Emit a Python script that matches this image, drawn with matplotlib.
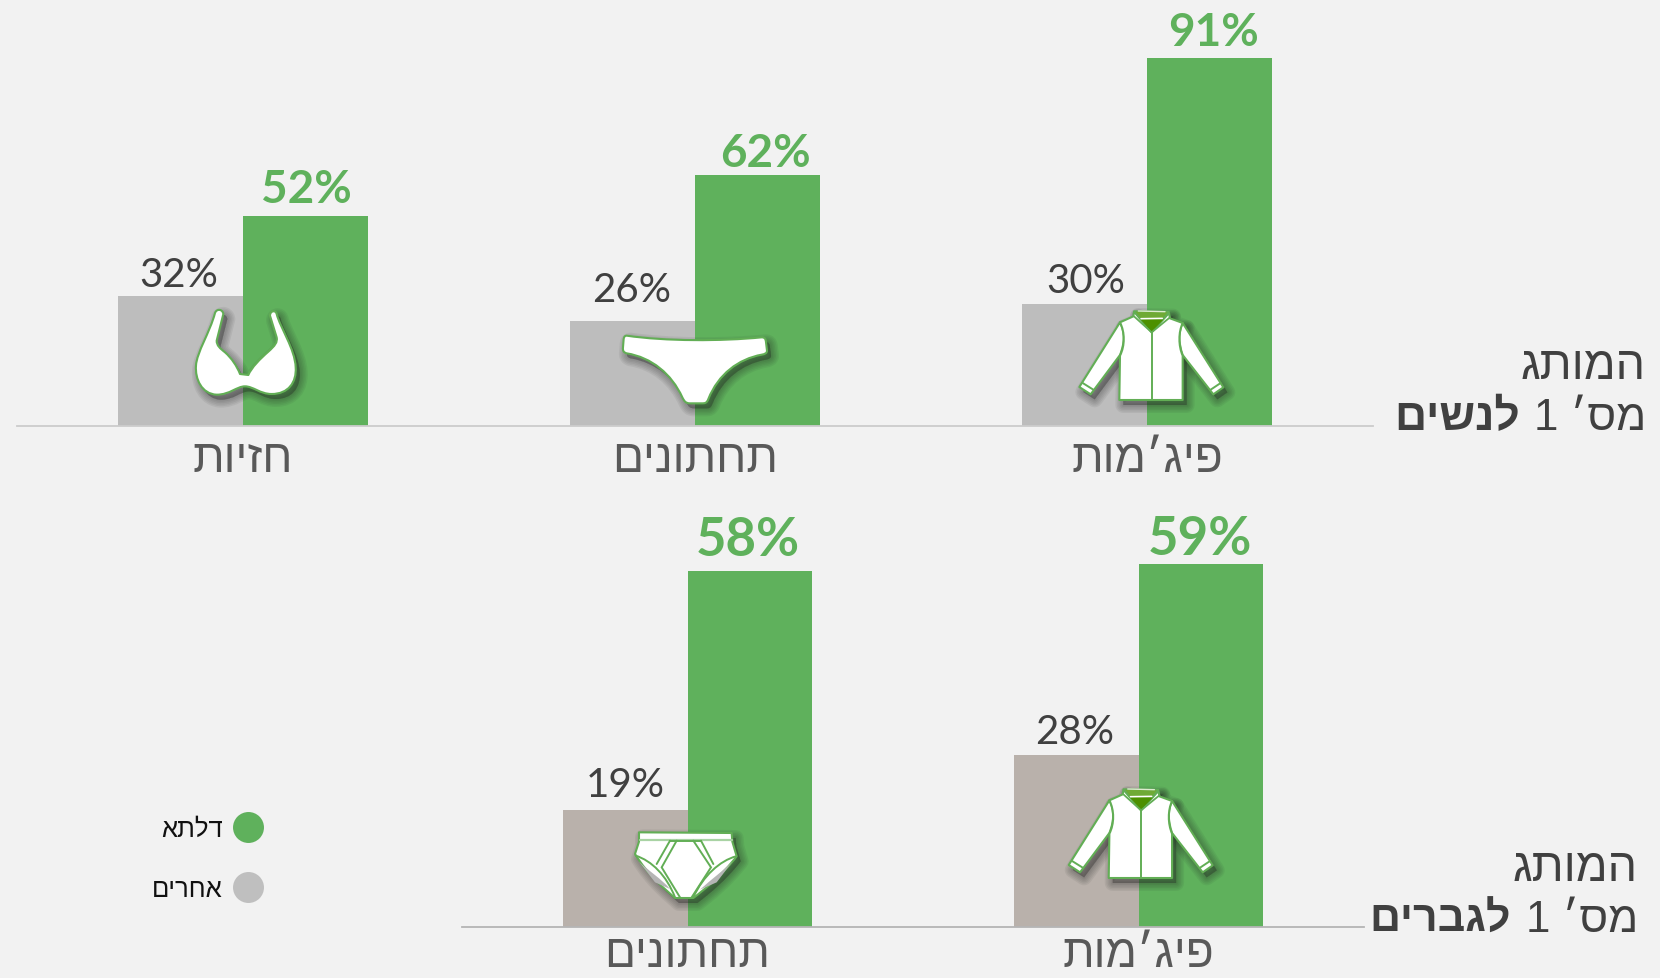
import matplotlib
matplotlib.use("Agg")
import matplotlib.pyplot as plt
from matplotlib.path import Path
from matplotlib.patches import PathPatch
from matplotlib.lines import Line2D

# ---------- data ----------
women_categories = ["חזיות", "תחתונים", "פיג׳מות"]
women_others = [32, 26, 30]
women_delta = [52, 62, 91]
men_categories = ["תחתונים", "פיג׳מות"]
men_others = [19, 28]
men_delta = [58, 59]
legend_labels = ["דלתא", "אחרים"]
title_top = "המותג"
title_num = "מס׳ 1"
title_women = "לנשים"
title_men = "לגברים"

W, H = 1660, 979
BG = "#F2F2F2"
GREEN = "#5FB15C"
GRAY = "#BDBDBD"
TAUPE = "#B9B1AB"
EDGE = "#62AE55"
DARK = "#404040"
HEB = "Liberation Sans"
NUM = "Lato"


def rtl(s):
    """matplotlib lays text out left to right: give it the visual order."""
    return s[::-1]


fig = plt.figure(figsize=(W / 100, H / 100), dpi=100, facecolor=BG)


def panel(left, right, baseline, top, ymax, ncat):
    ax = fig.add_axes([left / W, 1 - baseline / H, (right - left) / W, (baseline - top) / H])
    ax.set_facecolor("none")
    ax.set_xlim(-0.5, ncat - 0.5)
    ax.set_ylim(0, ymax)
    for s in ("top", "left", "right"):
        ax.spines[s].set_visible(False)
    ax.set_yticks([])
    return ax


def draw(ax, cats, others, delta, gray, sz_o, sz_d, spine, off_o, off_d, pad):
    bw = 0.2765
    xs = list(range(len(cats)))
    ax.bar([x - bw / 2 for x in xs], others, bw, color=gray, linewidth=0)
    ax.bar([x + bw / 2 for x in xs], delta, bw, color=GREEN, linewidth=0)
    ax.spines["bottom"].set_color(spine)
    ax.spines["bottom"].set_linewidth(1.3)
    ax.set_xticks(xs, [rtl(c) for c in cats], family=HEB, fontsize=33, color="#595959")
    ax.tick_params(axis="x", length=0, pad=pad)
    for i, x in enumerate(xs):
        ax.annotate(f"{others[i]}%", (x - bw / 2, others[i]), xytext=off_o[i],
                    textcoords="offset pixels", ha="center", va="baseline",
                    family=NUM, fontweight="normal", fontsize=sz_o, color=DARK)
        ax.annotate(f"{delta[i]}%", (x + bw / 2, delta[i]), xytext=off_d[i],
                    textcoords="offset pixels", ha="center", va="baseline",
                    family=NUM, fontweight="bold", fontsize=sz_d, color=GREEN)


ax_w = panel(17, 1373, 426.7, 59, 91, 3)
draw(ax_w, women_categories, women_others, women_delta, GRAY, 29, 33, "#CCCCCC",
     [(-2, 10), (-1, 20), (1, 12)], [(1, 14), (8, 9), (4, 13)], 8)
ax_m = panel(462, 1364, 928.3, 565.4, 59, 2)
draw(ax_m, men_categories, men_others, men_delta, TAUPE, 29, 38, "#B5B5B5",
     [(0, 14), (-2, 12)], [(-2, 16), (-1, 10)], 3.5)

# overlay in pixel coordinates for pictograms and side titles
ov = fig.add_axes([0, 0, 1, 1], zorder=5)
ov.set_xlim(0, W)
ov.set_ylim(H, 0)
ov.axis("off")
ov.patch.set_alpha(0)


def make_path(cmds, ox, oy):
    """cmds in 3x crop pixels: ('M',p) ('L',p) ('C',p1,p2,p3) ('Z',)"""
    verts, codes = [], []
    def t(p):
        return (ox + p[0] / 3, oy + p[1] / 3)
    for c in cmds:
        if c[0] == "M":
            verts.append(t(c[1])); codes.append(Path.MOVETO)
        elif c[0] == "L":
            verts.append(t(c[1])); codes.append(Path.LINETO)
        elif c[0] == "C":
            verts += [t(c[1]), t(c[2]), t(c[3])]; codes += [Path.CURVE4] * 3
        else:
            verts.append(verts[0]); codes.append(Path.CLOSEPOLY)
    return Path(verts, codes)


def shadow(path, dx=4, dy=5):
    sp = path.transformed(matplotlib.transforms.Affine2D().translate(dx, dy))
    for lw in (16, 13, 10, 7, 4, 1):
        ov.add_patch(PathPatch(sp, facecolor="#222222", edgecolor="#222222", alpha=0.065,
                               lw=lw * 0.72, joinstyle="round", zorder=1))


def shape(path, lw=1.5, fc="white", ec=EDGE, z=3):
    ov.add_patch(PathPatch(path, facecolor=fc, edgecolor=ec, lw=lw, joinstyle="round", zorder=z))


def stroke(cmds, ox, oy, lw=1.4, color=EDGE, z=4):
    ov.add_patch(PathPatch(make_path(cmds, ox, oy), facecolor="none", edgecolor=color,
                           lw=lw, capstyle="round", zorder=z))


def jacket(ox, oy):
    body = [("M", (190, 52)), ("L", (150, 70)), ("C", (165, 100), (165, 140), (150, 170)),
            ("L", (148, 303)), ("L", (338, 303)), ("L", (338, 170)),
            ("C", (325, 140), (325, 100), (338, 72)), ("L", (300, 58)), ("L", (297, 42)),
            ("L", (245, 100)), ("L", (192, 38)), ("Z",)]
    left = [("M", (150, 70)), ("L", (28, 264)), ("L", (62, 286)), ("L", (150, 168)),
            ("C", (165, 130), (165, 100), (150, 70)), ("Z",)]
    right = [("M", (338, 72)), ("L", (460, 265)), ("L", (430, 286)), ("L", (338, 168)),
             ("C", (325, 130), (325, 100), (338, 72)), ("Z",)]
    collar = [("M", (192, 36)), ("L", (297, 38)), ("L", (245, 100)), ("Z",)]
    for c in (left, right, body, collar):
        shadow(make_path(c, ox, oy))
    for c in (left, right, body):
        shape(make_path(c, ox, oy))
    shape(make_path(collar, ox, oy), lw=1.0, fc="#6FAA35", ec="#62AE55")
    inner = [("M", (212, 62)), ("L", (280, 62)), ("L", (245, 98)), ("Z",)]
    shape(make_path(inner, ox, oy), lw=0, fc="#4C9000", ec="#4C9000")
    stroke([("M", (205, 36)), ("L", (285, 38))], ox, oy, lw=1.0, color="#DDEBCF")
    stroke([("M", (213, 59)), ("L", (277, 58))], ox, oy, lw=1.1, color="white")
    stroke([("M", (192, 52)), ("L", (245, 100)), ("L", (300, 55))], ox, oy, lw=1.3)
    stroke([("M", (245, 100)), ("L", (245, 303))], ox, oy)
    stroke([("M", (38, 252)), ("L", (70, 272))], ox, oy)
    stroke([("M", (452, 252)), ("L", (422, 272))], ox, oy)


def bra(ox, oy):
    c = [("M", (90, 42)), ("C", (95, 28), (113, 30), (115, 45)), ("L", (95, 125)),
         ("C", (95, 140), (105, 148), (120, 160)), ("C", (140, 178), (155, 200), (165, 225)),
         ("L", (190, 228)), ("C", (200, 205), (225, 180), (250, 158)),
         ("C", (270, 140), (278, 130), (275, 115)), ("L", (255, 50)),
         ("C", (255, 35), (272, 32), (275, 45)), ("C", (285, 85), (330, 150), (332, 205)),
         ("C", (335, 250), (310, 285), (260, 285)), ("C", (225, 285), (205, 262), (180, 262)),
         ("C", (155, 262), (135, 287), (95, 287)), ("C", (50, 285), (30, 240), (33, 200)),
         ("C", (35, 160), (75, 100), (90, 42)), ("Z",)]
    p = make_path(c, ox, oy)
    shadow(p)
    shape(p)


def panties(ox, oy):
    c = [("M", (35, 35)), ("C", (150, 52), (320, 52), (440, 40)),
         ("C", (450, 40), (452, 45), (453, 55)), ("L", (456, 80)),
         ("C", (456, 88), (450, 90), (440, 92)), ("C", (370, 105), (310, 150), (280, 225)),
         ("C", (275, 238), (270, 238), (260, 238)), ("L", (225, 238)),
         ("C", (212, 238), (208, 232), (202, 220)), ("C", (170, 150), (110, 100), (35, 88)),
         ("C", (25, 85), (23, 80), (24, 70)), ("L", (26, 45)),
         ("C", (27, 38), (30, 35), (35, 35)), ("Z",)]
    p = make_path(c, ox, oy)
    shadow(p)
    shape(p)


def briefs(ox, oy):
    c = [("M", (42, 40)), ("L", (320, 42)), ("L", (322, 68)), ("L", (335, 112)),
         ("C", (290, 170), (240, 210), (205, 237)), ("L", (150, 237)),
         ("C", (120, 210), (70, 170), (30, 105)), ("L", (42, 68)), ("Z",)]
    p = make_path(c, ox, oy)
    shadow(p)
    shape(p)
    for g in ([("M", (42, 128)), ("C", (70, 155), (110, 180), (135, 210)), ("L", (90, 190)), ("Z",)],
              [("M", (322, 128)), ("C", (295, 155), (260, 180), (225, 212)), ("L", (275, 190)), ("Z",)]):
        shape(make_path(g, ox, oy), lw=0, fc="#B5B5B5", ec="#B5B5B5", z=3.5)
    stroke([("M", (44, 62)), ("L", (320, 62))], ox, oy, lw=1.6, color="#A9D3A4")
    stroke([("M", (135, 65)), ("L", (95, 135))], ox, oy)
    stroke([("M", (155, 65)), ("L", (110, 145)), ("L", (165, 235))], ox, oy)
    stroke([("M", (205, 65)), ("L", (258, 145)), ("L", (200, 235))], ox, oy)
    stroke([("M", (228, 65)), ("L", (265, 135))], ox, oy)
    stroke([("M", (135, 65)), ("L", (228, 65))], ox, oy)
    stroke([("M", (32, 110)), ("C", (80, 125), (125, 170), (150, 235))], ox, oy)
    stroke([("M", (333, 112)), ("C", (285, 125), (235, 170), (205, 235))], ox, oy)


bra(185, 300)
panties(615, 325)
jacket(1070, 300)
briefs(625, 820)
jacket(1059.4, 778)


def side(right_x, base1, base2, bold_right, bold_word, bold_size):
    ov.text(right_x, base1, rtl(title_top), ha="right", va="baseline", family=HEB,
            fontsize=33.5, color=DARK)
    ov.text(right_x, base2, rtl(title_num), ha="right", va="baseline", family=HEB,
            fontsize=31.5, color=DARK)
    ov.text(bold_right, base2, rtl(bold_word), ha="right", va="baseline", family=HEB,
            fontweight="bold", fontsize=bold_size, color=DARK)


side(1646, 379, 430, 1520, title_women, 32)
side(1638, 881, 932, 1511, title_men, 31)

handles = [Line2D([], [], ls="", marker="o", ms=22.3, mec="none", mfc=GREEN),
           Line2D([], [], ls="", marker="o", ms=22.3, mec="none", mfc="#BFBFBF")]
fig.legend(handles, [rtl(s) for s in legend_labels], loc="upper right",
           bbox_to_anchor=(297 / W, 1 - 795 / H), frameon=False, markerfirst=False,
           prop={"family": HEB, "size": 18.5}, labelspacing=1.38, handletextpad=0.0,
           labelcolor="#111111")

fig.savefig("out.png", dpi=100, facecolor=BG)
